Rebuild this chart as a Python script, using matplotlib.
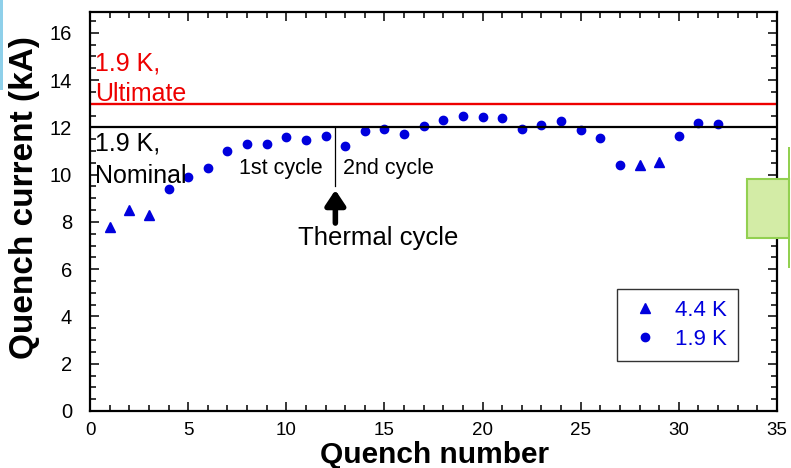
import matplotlib
matplotlib.use("Agg")
import matplotlib.pyplot as plt
from matplotlib.patches import Rectangle
from matplotlib.ticker import MultipleLocator

plt.rcParams['font.family'] = ['Liberation Sans', 'DejaVu Sans']

# Data
quench_44K = [1, 2, 3, 28, 29]
current_44K = [7.8, 8.5, 8.3, 10.4, 10.55]
quench_19K = [4, 5, 6, 7, 8, 9, 10, 11, 12, 13, 14, 15, 16, 17, 18, 19, 20,
              21, 22, 23, 24, 25, 26, 27, 30, 31, 32]
current_19K = [9.4, 9.9, 10.3, 11.0, 11.3, 11.3, 11.6, 11.45, 11.65, 11.2,
               11.85, 11.95, 11.7, 12.05, 12.3, 12.5, 12.45, 12.4, 11.95,
               12.1, 12.25, 11.9, 11.55, 10.4, 11.65, 12.2, 12.15]
ultimate = 13.0
nominal = 12.0
thermal_cycle_at = 12.5

blue = '#0000dd'

fig = plt.figure(figsize=(7.91, 4.68), dpi=100)
ax = fig.add_axes([90/791, 1-411/468, (777-90)/791, (411-12)/468])

ax.plot(quench_44K, current_44K, linestyle='none', marker='^', markersize=7,
        color=blue, label='4.4 K')
ax.plot(quench_19K, current_19K, linestyle='none', marker='o', markersize=6,
        color=blue, label='1.9 K')

ax.axhline(ultimate, color='#ee0000', lw=1.7)
ax.axhline(nominal, color='black', lw=1.6)

ax.text(0.25, 14.7, '1.9 K,', color='#ee0000', fontsize=18, va='center', ha='left')
ax.text(0.25, 13.4, 'Ultimate', color='#ee0000', fontsize=18, va='center', ha='left')
ax.text(0.25, 11.3, '1.9 K,', color='black', fontsize=18, va='center', ha='left')
ax.text(0.25, 9.96, 'Nominal', color='black', fontsize=18, va='center', ha='left')

ax.plot([thermal_cycle_at, thermal_cycle_at], [nominal, 9.5], color='black', lw=0.9)
ax.annotate('', xy=(thermal_cycle_at, 9.35), xytext=(thermal_cycle_at, 7.95),
            arrowprops=dict(arrowstyle='-|>,head_width=0.6,head_length=0.9',
                            color='black', lw=4, shrinkA=0, shrinkB=0))
ax.text(11.87, 10.25, '1st cycle', fontsize=15.5, ha='right', va='center')
ax.text(12.9, 10.25, '2nd cycle', fontsize=15.5, ha='left', va='center')
ax.text(14.67, 7.3, 'Thermal cycle', fontsize=18.5, ha='center', va='center')

ax.set_xlim(0, 35)
ax.set_ylim(0, 16.88)
ax.xaxis.set_major_locator(MultipleLocator(5))
ax.xaxis.set_minor_locator(MultipleLocator(1))
ax.yaxis.set_major_locator(MultipleLocator(2))
ax.yaxis.set_minor_locator(MultipleLocator(0.5))
ax.tick_params(which='both', direction='in', top=True, right=True, width=1.1)
ax.tick_params(which='major', length=6.5)
ax.tick_params(which='minor', length=4)
ax.tick_params(axis='y', labelsize=14.5, pad=13)
ax.tick_params(axis='x', labelsize=13.5, pad=8)
for s in ax.spines.values():
    s.set_linewidth(1.6)

ax.set_xlabel('Quench number', fontsize=21.5, fontweight='bold')
ax.set_ylabel('Quench current (kA)', fontsize=24, fontweight='bold')
ax.xaxis.set_label_coords((435-90)/687, -(441-411)/399)
ax.yaxis.set_label_coords(-(90-40)/687, (411-198)/399)

leg = ax.legend(loc='upper left', bbox_to_anchor=((617-90)/687, (411-289)/399),
                frameon=True, fancybox=False, edgecolor='black', fontsize=16,
                labelcolor=blue, handletextpad=0.6, borderpad=0.5,
                handlelength=1.5, borderaxespad=0, labelspacing=0.35)
leg.get_frame().set_linewidth(1.0)

# slide decorations at the edges
fig.patches.append(Rectangle((0, 1-90/468), 3/791, 90/468, transform=fig.transFigure,
                             facecolor='#8fd0ea', edgecolor='none'))
fig.patches.append(Rectangle((747/791, 1-238/468), 42/791, 59/468, transform=fig.transFigure,
                             facecolor='#d3eca6', edgecolor='#92d050', lw=1.5, zorder=5))
fig.patches.append(Rectangle((788/791, 1-268/468), 2/791, 121/468, transform=fig.transFigure,
                             facecolor='#92d050', edgecolor='none', zorder=5))

fig.savefig('out.png', dpi=100)
